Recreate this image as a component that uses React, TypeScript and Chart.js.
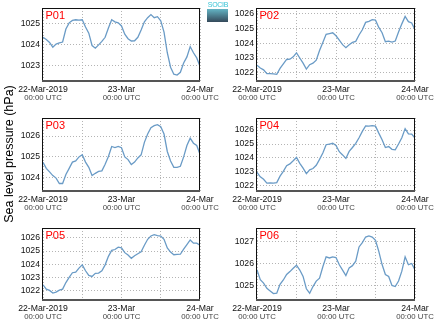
import React, { useEffect, useRef } from 'react';
import { Chart, registerables } from 'chart.js';

Chart.register(...registerables);
Chart.defaults.font.family = '"Liberation Sans", Arial, sans-serif';

// ---------- data ----------
const HOURS = [0, 1, 2, 3, 4, 5, 6, 7, 8, 9, 10, 11, 12, 13, 14, 15, 16, 17, 18, 19, 20, 21, 22, 23, 24,
  25, 26, 27, 28, 29, 30, 31, 32, 33, 34, 35, 36, 37, 38, 39, 40, 41, 42, 43, 44, 45, 46, 47, 48];

const X_TICK_LABELS = ['22-Mar-2019', '23-Mar', '24-Mar'];
const X_SUB_LABEL = '00:00 UTC';
const Y_TITLE = 'Sea level pressure (hPa)';
const TITLES = ['P01', 'P02', 'P03', 'P04', 'P05', 'P06'];

const P01 = [1024.35, 1024.24, 1024.1, 1023.87, 1024.02, 1024.08, 1024.12, 1024.75, 1025.05, 1025.17,
  1025.2, 1025.18, 1025.2, 1024.85, 1024.55, 1023.95, 1023.82, 1023.98, 1024.15, 1024.35,
  1024.8, 1025.2, 1025.1, 1025.05, 1024.9, 1024.5, 1024.28, 1024.17, 1024.18, 1024.35,
  1024.7, 1025.1, 1025.3, 1025.45, 1025.3, 1025.35, 1025.15, 1024.6, 1023.6, 1022.9,
  1022.56, 1022.52, 1022.65, 1023.1, 1023.4, 1023.9, 1023.6, 1023.35, 1022.95];
const P02 = [1022.51, 1022.33, 1022.2, 1021.95, 1021.95, 1021.93, 1021.9, 1022.3, 1022.6, 1022.9,
  1022.92, 1023.08, 1023.35, 1023.0, 1022.65, 1022.25, 1022.55, 1022.65, 1022.85, 1023.5,
  1024.05, 1024.6, 1024.65, 1024.7, 1024.5, 1024.2, 1023.9, 1023.7, 1023.9, 1024.05,
  1024.12, 1024.55, 1024.9, 1025.4, 1025.47, 1025.58, 1025.55, 1025.06, 1024.7, 1024.1,
  1024.14, 1024.07, 1024.14, 1024.75, 1025.3, 1025.8, 1025.45, 1025.36, 1024.9];
const P03 = [1024.74, 1024.45, 1024.28, 1024.1, 1023.98, 1023.72, 1023.72, 1024.15, 1024.45, 1024.75,
  1024.81, 1025.0, 1025.1, 1024.75, 1024.5, 1024.1, 1024.21, 1024.3, 1024.33, 1024.65,
  1025.02, 1025.5, 1025.45, 1025.5, 1025.44, 1025.0, 1024.87, 1024.63, 1024.75, 1024.95,
  1025.1, 1025.7, 1026.1, 1026.4, 1026.5, 1026.55, 1026.45, 1026.1, 1025.26, 1024.8,
  1024.5, 1024.5, 1024.55, 1025.0, 1025.55, 1025.9, 1025.66, 1025.55, 1025.13];
const P04 = [1022.98, 1022.65, 1022.48, 1022.2, 1022.22, 1022.2, 1022.24, 1022.7, 1023.05, 1023.45,
  1023.58, 1023.8, 1024.04, 1023.62, 1023.27, 1022.88, 1023.15, 1023.25, 1023.48, 1023.9,
  1024.35, 1024.95, 1025.0, 1025.05, 1024.9, 1024.45, 1024.22, 1023.97, 1024.47, 1024.75,
  1025.05, 1025.45, 1025.9, 1026.3, 1026.28, 1026.32, 1026.28, 1025.78, 1025.31, 1024.75,
  1024.82, 1024.62, 1024.58, 1025.0, 1025.45, 1026.1, 1025.72, 1025.71, 1025.43];
const P05 = [1022.43, 1022.1, 1022.0, 1021.8, 1021.87, 1022.02, 1022.1, 1022.6, 1023.0, 1023.35,
  1023.4, 1023.7, 1023.95, 1023.5, 1023.15, 1023.07, 1023.3, 1023.32, 1023.5, 1023.95,
  1024.6, 1025.05, 1025.12, 1025.3, 1025.25, 1024.88, 1024.7, 1024.45, 1024.65, 1024.8,
  1024.95, 1025.45, 1025.9, 1026.15, 1026.25, 1026.18, 1026.15, 1025.9, 1025.24, 1024.92,
  1024.72, 1024.75, 1024.76, 1025.15, 1025.5, 1025.85, 1025.6, 1025.6, 1025.44];
const P06 = [1025.71, 1025.26, 1025.11, 1024.87, 1024.75, 1024.63, 1024.65, 1025.05, 1025.25, 1025.5,
  1025.63, 1025.78, 1025.92, 1025.7, 1025.41, 1024.85, 1024.65, 1024.95, 1025.2, 1025.33,
  1025.85, 1026.3, 1026.25, 1026.3, 1026.27, 1025.94, 1025.7, 1025.45, 1025.8, 1025.9,
  1026.1, 1026.75, 1026.95, 1027.2, 1027.25, 1027.2, 1027.05, 1026.55, 1025.95, 1025.5,
  1025.41, 1025.0, 1024.95, 1025.2, 1025.65, 1026.3, 1025.94, 1026.0, 1025.71];
const SERIES = [P01, P02, P03, P04, P05, P06];

const Y_MIN = [1022.23, 1021.45, 1023.36, 1021.64, 1021.27, 1024.34];
const Y_MAX = [1025.77, 1026.37, 1026.87, 1026.86, 1026.76, 1027.61];

// ---------- layout / style ----------
const COL_X = [0, 214];
const COL_W = [222, 220];
const AREA_LEFT = [43, 43];
const RIGHT_PAD = [22, 19];
const ROW_Y = [0, 110, 220];
const ROW_H = [110, 110, 107];
const AREA_TOP = 8;
const AREA_BOTTOM = [81, 81, 80];
const X_AXIS_H = 12;

const LINE_COLOR = '#6a9bc6';
const GRID_COLOR = '#b4b4b4';
const TICK_FONT = { size: 8.7 };
const SUB_FONT = { size: 7.8 };

const framePlugin = {
  id: 'frame',
  afterDraw(chart: any, _args: any, opts: any) {
    const { ctx, chartArea: a } = chart;
    ctx.save();
    ctx.setLineDash([]);
    ctx.strokeStyle = '#111';
    ctx.lineWidth = 1;
    ctx.strokeRect(a.left - 0.5, a.top + 0.5, a.right - a.left, a.bottom - a.top - 1);
    ctx.strokeStyle = '#555';
    ctx.lineWidth = 2;
    ctx.beginPath();
    ctx.moveTo(a.left - 1, a.bottom);
    ctx.lineTo(a.right, a.bottom);
    ctx.stroke();
    ctx.fillStyle = '#ff0000';
    ctx.font = '11px "Liberation Sans", Arial, sans-serif';
    ctx.textBaseline = 'alphabetic';
    ctx.textAlign = 'left';
    ctx.fillText(opts.title || '', a.left + 2.5, a.top + 11);
    ctx.restore();
  },
};

function Panel({ idx }: { idx: number }) {
  const ref = useRef<HTMLCanvasElement>(null);
  const col = idx % 2;
  const row = Math.floor(idx / 2);
  const W = COL_W[col];
  const H = ROW_H[row];

  useEffect(() => {
    if (!ref.current) return;
    const bottomSpace = H - AREA_BOTTOM[row];
    const values = SERIES[idx];
    const chart = new Chart(ref.current, {
      type: 'line',
      data: {
        datasets: [
          {
            data: HOURS.map((h, i) => ({ x: h, y: values[i] })),
            borderColor: LINE_COLOR,
            borderWidth: 1.3,
            pointRadius: 0,
            tension: 0,
            fill: false,
          },
        ],
      },
      options: {
        responsive: false,
        animation: false,
        devicePixelRatio: 1,
        layout: {
          autoPadding: false,
          padding: { left: 0, right: RIGHT_PAD[col], top: AREA_TOP, bottom: 0 },
        },
        plugins: {
          legend: { display: false },
          tooltip: { enabled: false },
          frame: { title: TITLES[idx] },
        } as any,
        scales: {
          x: {
            type: 'linear',
            position: 'bottom',
            weight: 0,
            min: 0,
            max: 48,
            ticks: {
              stepSize: 12,
              autoSkip: false,
              maxRotation: 0,
              minRotation: 0,
              padding: 3,
              font: TICK_FONT,
              color: '#111',
              callback: (v: any) => (Number(v) % 24 === 0 ? X_TICK_LABELS[Number(v) / 24] : ''),
            },
            grid: { color: GRID_COLOR, lineWidth: 1, drawTicks: false },
            border: { display: false, dash: [1, 2] },
            afterFit: (s: any) => {
              s.height = X_AXIS_H;
              s.paddingLeft = 0;
              s.paddingRight = 0;
            },
          },
          x2: {
            type: 'linear',
            position: 'bottom',
            weight: 1,
            min: 0,
            max: 48,
            ticks: {
              stepSize: 12,
              autoSkip: false,
              maxRotation: 0,
              minRotation: 0,
              padding: 0,
              font: SUB_FONT,
              color: '#444',
              callback: (v: any) => (Number(v) % 24 === 0 ? X_SUB_LABEL : ''),
            },
            grid: { display: false, drawTicks: false },
            border: { display: false },
            afterFit: (s: any) => {
              s.height = bottomSpace - X_AXIS_H;
              s.paddingLeft = 0;
              s.paddingRight = 0;
            },
          },
          y: {
            type: 'linear',
            min: Y_MIN[idx],
            max: Y_MAX[idx],
            ticks: {
              stepSize: 1,
              includeBounds: false,
              padding: 3,
              font: TICK_FONT,
              color: '#111',
              callback: (v: any) => String(v),
            },
            grid: { color: GRID_COLOR, lineWidth: 1, drawTicks: false },
            border: { display: false, dash: [1, 2] },
            afterFit: (s: any) => {
              s.width = AREA_LEFT[col];
              s.paddingTop = 0;
              s.paddingBottom = 0;
            },
          },
        } as any,
      },
      plugins: [framePlugin as any],
    });
    return () => chart.destroy();
  }, [idx]);

  return (
    <canvas
      ref={ref}
      width={W}
      height={H}
      style={{ position: 'absolute', left: COL_X[col], top: ROW_Y[row], width: W, height: H }}
    />
  );
}

export default function App() {
  return (
    <div
      style={{
        position: 'fixed',
        left: 0,
        top: 0,
        width: 434,
        height: 327,
        background: '#fff',
        overflow: 'hidden',
        fontFamily: '"Liberation Sans", Arial, sans-serif',
      }}
    >
      {[0, 1, 2, 3, 4, 5].map((i) => (
        <Panel key={i} idx={i} />
      ))}
      <div
        style={{
          position: 'absolute',
          left: -66,
          top: 146,
          width: 150,
          height: 16,
          transform: 'rotate(-90deg)',
          whiteSpace: 'nowrap',
          textAlign: 'center',
          fontSize: 12.5,
          fontWeight: 'normal',
          color: '#000',
          lineHeight: '16px',
        }}
      >
        {Y_TITLE}
      </div>
      <div
        style={{
          position: 'absolute',
          left: 207,
          top: 1,
          width: 22,
          fontSize: 7,
          lineHeight: '8px',
          color: '#36c3d6',
          textAlign: 'center',
          letterSpacing: -0.3,
        }}
      >
        SOCIB
      </div>
      <div
        style={{
          position: 'absolute',
          left: 207,
          top: 9,
          width: 21,
          height: 13,
          background: 'linear-gradient(#63b4c4, #35495a)',
        }}
      />
    </div>
  );
}
